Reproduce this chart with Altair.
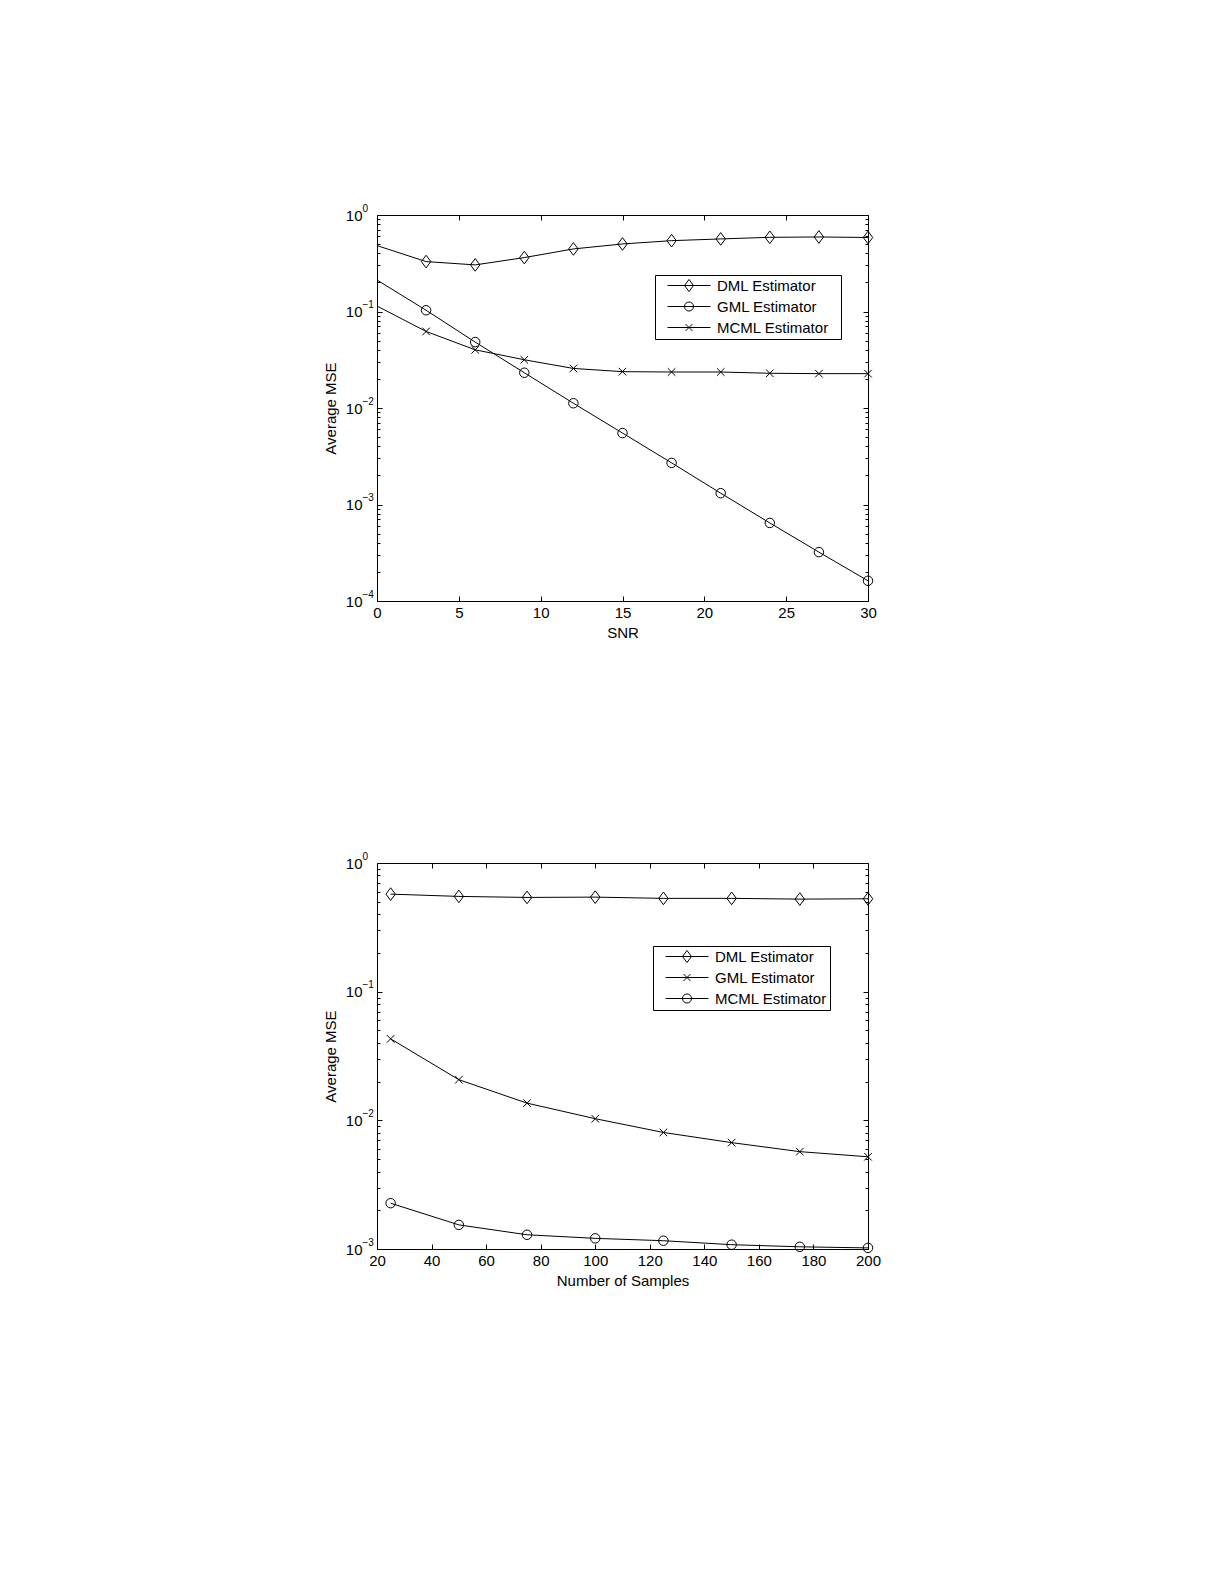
import altair as alt
import pandas as pd

# ---------------- data ----------------
series_names = ["DML Estimator", "GML Estimator", "MCML Estimator"]

snr = [0, 3, 6, 9, 12, 15, 18, 21, 24, 27, 30]
dml_snr = [0.482, 0.329, 0.304, 0.362, 0.445, 0.501, 0.542, 0.565, 0.587, 0.592, 0.585]
gml_snr = [0.212, 0.103, 0.0482, 0.0232, 0.0112, 0.0055, 0.0027, 0.00131, 0.000644, 0.000321, 0.000162]
mcml_snr = [0.114, 0.0621, 0.0401, 0.0316, 0.0257, 0.0238, 0.0236, 0.0236, 0.0229, 0.0227, 0.0227]

samples = [25, 50, 75, 100, 125, 150, 175, 200]
dml_n = [0.573, 0.550, 0.540, 0.543, 0.531, 0.531, 0.524, 0.527]
gml_n = [0.0430, 0.0207, 0.0136, 0.0103, 0.00805, 0.00671, 0.00571, 0.00521]
mcml_n = [0.00227, 0.00154, 0.00129, 0.00121, 0.00116, 0.00108, 0.00104, 0.00102]

snr_ticks = [0, 5, 10, 15, 20, 25, 30]
sample_ticks = [20, 40, 60, 80, 100, 120, 140, 160, 180, 200]
decades_top = [1e-4, 1e-3, 1e-2, 1e-1, 1]
decades_bottom = [1e-3, 1e-2, 1e-1, 1]
minor_mult = [1, 2, 3, 4, 5, 6, 7, 8, 9]

# ---------------- marker shapes (unit square paths) ----------------
DIAMOND = "M0,-1L0.75,0L0,1L-0.75,0Z"
CIRCLE = "M0.75,0A0.75,0.75,0,1,1,-0.75,0A0.75,0.75,0,1,1,0.75,0Z"
XMARK = "M-0.6,-0.6L0.6,0.6M-0.6,0.6L0.6,-0.6"
L_DIAMOND = "M-1,0L1,0M0,-0.28L0.21,0L0,0.28L-0.21,0Z"
L_CIRCLE = "M-1,0L1,0M0.21,0A0.21,0.21,0,1,1,-0.21,0A0.21,0.21,0,1,1,0.21,0Z"
L_XMARK = "M-1,0L1,0M-0.16,-0.16L0.16,0.16M-0.16,0.16L0.16,-0.16"

FONT = "Liberation Sans"
FS = 15
W, H = 491, 386

DEC_TEST = "abs(log(datum.value)/LN10 - round(log(datum.value)/LN10)) < 0.001"
EXP_EXPR = "replace(''+round(log(datum.value)/LN10), '-', '\u2212')"


def long_df(xs, ys_list):
    rows = []
    for name, ys in zip(series_names, ys_list):
        for xv, yv in zip(xs, ys):
            rows.append({"x": xv, "mse": yv, "series": name})
    return pd.DataFrame(rows)


def minor_values(decades):
    vals = []
    for d in decades[:-1]:
        for m in minor_mult:
            vals.append(d * m)
    vals.append(decades[-1])
    return vals


def panel(df, xtitle, xdom, xticks, decades, chart_paths, legend_paths, lx, ly,
          marker_filter, right_pad_title):
    xs = alt.Scale(domain=xdom, nice=False, zero=False)
    ys = alt.Scale(type="log", domain=[decades[0], decades[-1]], nice=False)
    yminor = minor_values(decades)
    tick_size = {"condition": {"test": DEC_TEST, "value": 5}, "value": 3}
    base = alt.Chart(df)

    # data lines + main labelled axes ("10" part of the y labels)
    line = base.mark_line(color="black", strokeWidth=1).encode(
        x=alt.X("x:Q", scale=xs,
                axis=alt.Axis(orient="bottom", values=xticks, ticks=False, domain=False,
                              grid=False, labelPadding=4, labelFlush=False,
                              title=xtitle, titlePadding=5)),
        y=alt.Y("mse:Q", scale=ys,
                axis=alt.Axis(orient="left", values=decades, ticks=False, domain=False,
                              grid=False, labelPadding=15, labelExpr="'10'", labelFlush=False,
                              title="Average MSE", titlePadding=7)),
        detail="series:N",
    )

    # markers + inward ticks on the bottom and left edges
    pts = base.transform_filter(marker_filter).mark_point(
        filled=False, color="black", strokeWidth=1, size=160, opacity=1
    ).encode(
        x=alt.X("x:Q", scale=xs,
                axis=alt.Axis(orient="top", offset=-H, values=xticks, labels=False, domain=False,
                              grid=False, tickSize=5, tickColor="black", title=None)),
        y=alt.Y("mse:Q", scale=ys,
                axis=alt.Axis(orient="right", offset=-W, values=yminor, labels=False, domain=False,
                              grid=False, tickSize=tick_size, tickColor="black", title=None)),
        shape=alt.Shape("series:N", scale=alt.Scale(domain=series_names, range=chart_paths), legend=None),
    )

    legend_kw = dict(
        orient="none", legendX=lx, legendY=ly,
        strokeColor="black", fillColor="white", padding=3,
        labelFont=FONT, labelFontSize=FS, labelColor="black", labelOffset=6,
        symbolOffset=9, clipHeight=15, rowPadding=5,
        symbolSize=1849, symbolStrokeWidth=1, symbolStrokeColor="black",
        symbolFillColor="transparent",
    )
    if right_pad_title:
        # invisible title on the right gives the box its wider right margin
        legend_kw.update(title=".", titleOrient="right", titleColor="white", titleFont=FONT,
                         titleFontSize=FS, titlePadding=4)
    else:
        legend_kw.update(title=None)

    # legend + inward ticks on the top and right edges
    leg = base.transform_filter("false").mark_point(
        filled=False, color="black", strokeWidth=1, size=1849, opacity=1
    ).encode(
        x=alt.X("x:Q", scale=xs,
                axis=alt.Axis(orient="bottom", offset=-H, values=xticks, labels=False, domain=False,
                              grid=False, tickSize=5, tickColor="black", title=None)),
        y=alt.Y("mse:Q", scale=ys,
                axis=alt.Axis(orient="left", offset=-W, values=yminor, labels=False, domain=False,
                              grid=False, tickSize=tick_size, tickColor="black", title=None)),
        shape=alt.Shape(
            "series:N",
            scale=alt.Scale(domain=series_names, range=legend_paths),
            legend=alt.Legend(**legend_kw),
        ),
    )

    # exponent part of the y labels (superscript)
    expo = base.transform_filter("false").mark_point(opacity=0).encode(
        y=alt.Y("mse:Q", scale=ys,
                axis=alt.Axis(orient="left", values=decades, ticks=False, domain=False, grid=False,
                              labelExpr=EXP_EXPR, labelAlign="left", labelPadding=15,
                              labelOffset=-7, labelFontSize=10, labelFlush=False, title=None)),
    )

    return (
        alt.layer(line, pts, leg, expo)
        .resolve_scale(shape="independent")
        .resolve_axis(x="independent", y="independent")
        .properties(width=W, height=H)
    )


top = panel(long_df(snr, [dml_snr, gml_snr, mcml_snr]), "SNR", [0, 30], snr_ticks, decades_top,
            [DIAMOND, CIRCLE, XMARK], [L_DIAMOND, L_CIRCLE, L_XMARK], 278, 60,
            "datum.x > 0", True)
bottom = panel(long_df(samples, [dml_n, gml_n, mcml_n]), "Number of Samples", [20, 200], sample_ticks,
               decades_bottom, [DIAMOND, XMARK, CIRCLE], [L_DIAMOND, L_XMARK, L_CIRCLE], 276, 83,
               "true", False)

chart = (
    alt.vconcat(top, bottom, spacing=209)
    .properties(padding={"left": 314, "top": 194, "right": 10, "bottom": 10}, background="white")
    .configure_view(stroke="black", strokeWidth=1)
    .configure_axis(labelFont=FONT, labelFontSize=FS, labelColor="black",
                    titleFont=FONT, titleFontSize=FS, titleColor="black", titleFontWeight="normal")
)

chart.save("out.html", embed_options={"renderer": "svg", "actions": False})
